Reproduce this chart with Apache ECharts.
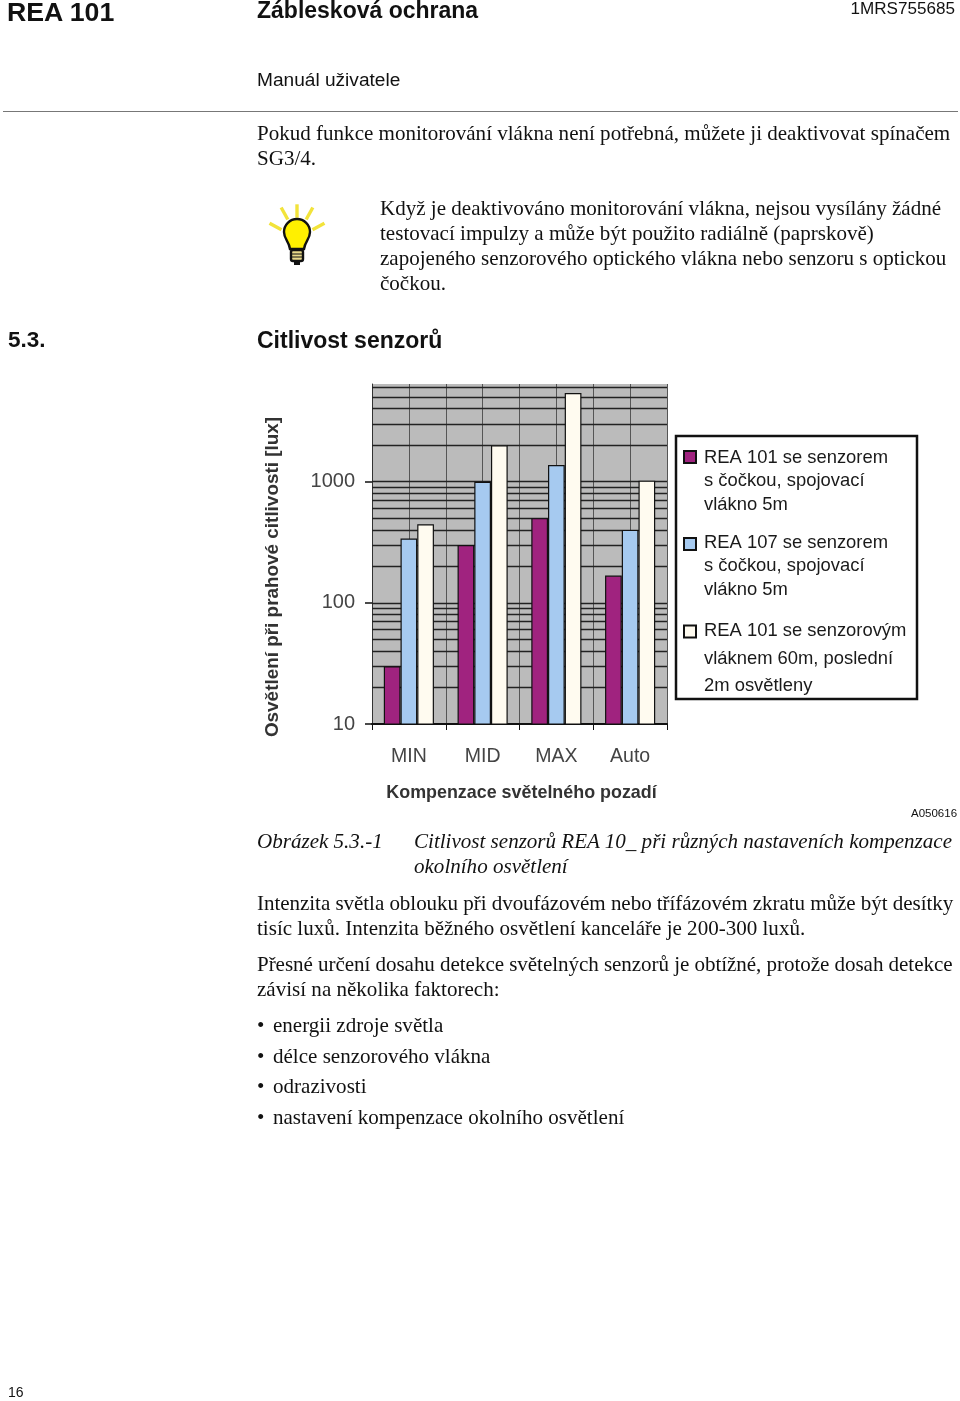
<!DOCTYPE html>
<html><head><meta charset="utf-8">
<script src="https://cdn.jsdelivr.net/npm/echarts@6/dist/echarts.min.js"></script>
<style>
html,body{margin:0;padding:0;background:#fff}
#page{position:relative;width:960px;height:1401px;overflow:hidden;color:#111}
#chart{position:absolute;left:0;top:0;width:960px;height:1401px}
.t{position:absolute;white-space:nowrap;font:21.05px/24px "Liberation Serif",serif}
.s{font-family:"Liberation Sans",sans-serif}
.b{font-weight:bold}
.i{font-style:italic}
.n{letter-spacing:-.05px}
#rule{position:absolute;left:3px;top:111px;width:955px;height:1px;background:#777}
#bulb{position:absolute;left:266px;top:203px}
</style></head><body>
<div id="page">
<div id="chart"></div>
<div class="t s b" style="left:7px;top:0;font-size:26.7px">REA 101</div>
<div class="t s b" style="left:257px;top:-2px;font-size:23px">Záblesková ochrana</div>
<div class="t s" style="right:5px;top:-3px;font-size:17.1px">1MRS755685</div>
<div class="t s" style="left:257px;top:68px;font-size:19.1px">Manuál uživatele</div>
<div id="rule"></div>
<div class="t" style="left:257px;top:121px">Pokud funkce monitorování vlákna není potřebná, můžete ji deaktivovat spínačem</div>
<div class="t" style="left:257px;top:146px">SG3/4.</div>
<div class="t" style="left:380px;top:196px">Když je deaktivováno monitorování vlákna, nejsou vysílány žádné</div>
<div class="t" style="left:380px;top:221px">testovací impulzy a může být použito radiálně (paprskově)</div>
<div class="t" style="left:380px;top:246px">zapojeného senzorového optického vlákna nebo senzoru s optickou</div>
<div class="t" style="left:380px;top:271px">čočkou.</div>
<svg id="bulb" width="62" height="66" viewBox="0 0 62 66">
<g stroke="#f2e33a" stroke-width="3.4" stroke-linecap="square" fill="none">
<line x1="5" y1="21" x2="14" y2="26"/><line x1="16" y1="6" x2="21" y2="15"/><line x1="31" y1="3" x2="31" y2="13"/><line x1="46" y1="6" x2="41" y2="15"/><line x1="57" y1="21" x2="48" y2="26"/></g>
<path d="M24 47 C23 39 18 37 18 30 A13 13 0 1 1 44 30 C44 37 39 39 38 47 Z" transform="translate(0,-1)" fill="#fff000" stroke="#111" stroke-width="2.4"/>
<rect x="25" y="47" width="12" height="11" rx="2" fill="#e8d98a" stroke="#111" stroke-width="2.4"/>
<line x1="25" y1="51" x2="37" y2="51" stroke="#111"/><line x1="25" y1="54" x2="37" y2="54" stroke="#111"/>
<rect x="28" y="58" width="6" height="4" fill="#111"/>
</svg>
<div class="t s b" style="left:8px;top:328px;font-size:22.5px">5.3.</div>
<div class="t s b" style="left:257px;top:328px;font-size:23px">Citlivost senzorů</div>
<div class="t s" style="left:911px;top:801px;font-size:11.5px">A050616</div>
<div class="t i" style="left:257px;top:829px">Obrázek 5.3.-1</div>
<div class="t i" style="left:414px;top:829px">Citlivost senzorů REA 10_ při různých nastaveních kompenzace</div>
<div class="t i" style="left:414px;top:854px">okolního osvětlení</div>
<div class="t n" style="left:257px;top:891px">Intenzita světla oblouku při dvoufázovém nebo třífázovém zkratu může být desítky</div>
<div class="t" style="left:257px;top:916px">tisíc luxů. Intenzita běžného osvětlení kanceláře je 200-300 luxů.</div>
<div class="t n" style="left:257px;top:952px">Přesné určení dosahu detekce světelných senzorů je obtížné, protože dosah detekce</div>
<div class="t" style="left:257px;top:977px">závisí na několika faktorech:</div>
<div class="t" style="left:257px;top:1013px">•</div><div class="t" style="left:273px;top:1013px">energii zdroje světla</div>
<div class="t" style="left:257px;top:1044px">•</div><div class="t" style="left:273px;top:1044px">délce senzorového vlákna</div>
<div class="t" style="left:257px;top:1074px">•</div><div class="t" style="left:273px;top:1074px">odrazivosti</div>
<div class="t" style="left:257px;top:1105px">•</div><div class="t" style="left:273px;top:1105px">nastavení kompenzace okolního osvětlení</div>
<div class="t s" style="left:8px;top:1380px;font-size:14px">16</div>
</div>
<script>
const categories = ['MIN', 'MID', 'MAX', 'Auto'];
const seriesNames = [
  'REA 101 se senzorem\ns čočkou, spojovací\nvlákno 5m',
  'REA 107 se senzorem\ns čočkou, spojovací\nvlákno 5m',
  'REA 101 se senzorovým\nvláknem 60m, poslední\n2m osvětleny'
];
const lensFibre5mRea101 = [30, 300, 500, 168];
const lensFibre5mRea107 = [340, 1000, 1370, 400];
const fibre60mRea101 = [445, 2000, 5400, 1020];
const yTickValues = [10, 100, 1000];
const gridValues = [20,30,40,50,60,70,80,90,100,200,300,400,500,600,700,800,900,1000,2000,3000,4000,5000,6000];
const yMin = 10, yMax = 6400;

const chart = echarts.init(document.getElementById('chart'), null, {width:960, height:1401});
const bar = (name, data, c) => ({name, type:'bar', data, z:3, barGap:0, barCategoryGap:'32%',
  itemStyle:{color:c, borderColor:'#111', borderWidth:1.2}});
const legendIcon = (off, h) => `path://M0 0L0 0ZM0 ${off}H12V${off+12}H0ZM15 ${h}L15 ${h}Z`;
const legendOf = (i, top, off, lineHeight) => ({
  orient:'vertical', left:683, top, padding:0, itemWidth:15, itemHeight:lineHeight*3,
  selectedMode:false, align:'left',
  textStyle:{fontFamily:'Liberation Sans', fontSize:18.4, color:'#1a1a1a', lineHeight},
  data:[{name:seriesNames[i], icon:legendIcon(off, lineHeight*3)}]
});
chart.setOption({
  animation:false,
  backgroundColor:'transparent',
  grid:{left:372, top:384, width:295, height:340, backgroundColor:'#bbbbbb', show:true, borderWidth:0},
  legend:[legendOf(0, 445.5, 4.5, 23.2), legendOf(1, 530.5, 6.5, 23.2), legendOf(2, 616.5, 8, 27.5)],
  xAxis:[{
    type:'category', data:categories,
    axisLine:{lineStyle:{color:'#111',width:2}},
    axisTick:{show:true, length:6, lineStyle:{color:'#111'}},
    axisLabel:{fontFamily:'Liberation Sans', fontSize:19.5, color:'#444', margin:23},
    name:'Kompenzace světelného pozadí', nameLocation:'middle', nameGap:60,
    nameTextStyle:{fontFamily:'Liberation Sans', fontSize:17.9, fontWeight:'bold', color:'#333', padding:[0,0,0,4]}
  },{
    type:'value', min:0, max:4, interval:0.5, position:'bottom',
    axisLine:{show:false}, axisTick:{show:false}, axisLabel:{show:false},
    splitLine:{show:true, lineStyle:{color:'#555', width:1}}
  }],
  yAxis:{
    type:'log', logBase:10, min:yMin, max:yMax,
    axisLine:{show:true, lineStyle:{color:'#333',width:1}},
    axisTick:{show:true, length:7, customValues:yTickValues, lineStyle:{color:'#111',width:1.5}},
    axisLabel:{fontFamily:'Liberation Sans', fontSize:20, color:'#444', margin:17, customValues:yTickValues,
      formatter:v => String(Math.round(v))},
    splitLine:{show:false},
    name:'Osvětlení při prahové citlivosti [lux]', nameLocation:'middle', nameGap:90, nameRotate:90,
    nameTextStyle:{fontFamily:'Liberation Sans', fontSize:18.9, fontWeight:'bold', color:'#333', padding:[0,46,0,0]}
  },
  series:[
    {type:'line', data:[], z:1, silent:true, markLine:{silent:true, symbol:'none', animation:false, label:{show:false}, z:1,
      lineStyle:{color:'#222', width:1.3, type:'solid'},
      data:gridValues.map(v => ({yAxis:v}))}},
    bar(seriesNames[0], lensFibre5mRea101, '#a0237f'),
    bar(seriesNames[1], lensFibre5mRea107, '#a6caf0'),
    bar(seriesNames[2], fibre60mRea101, '#fffbf0')
  ],
  graphic:[{type:'rect', z:-1, shape:{x:676, y:436, width:241, height:263},
    style:{fill:'#fff', stroke:'#111', lineWidth:2.5}}]
});
</script>
</body></html>
